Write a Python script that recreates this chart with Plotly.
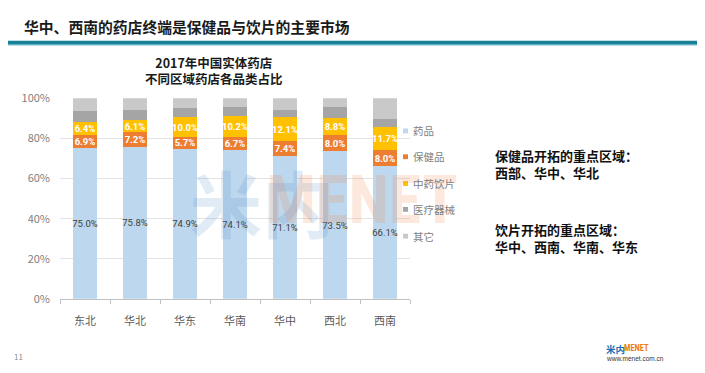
import plotly.graph_objects as go

# ---------------- data ----------------
categories = ["东北", "华北", "华东", "华南", "华中", "西北", "西南"]
drugs = [75.0, 75.8, 74.9, 74.1, 71.1, 73.5, 66.1]        # 药品
health = [6.9, 7.2, 5.7, 6.7, 7.4, 8.0, 8.0]              # 保健品
herbal = [6.4, 6.1, 10.0, 10.2, 12.1, 8.8, 11.7]          # 中药饮片
devices = [5.5, 5.3, 4.5, 4.8, 3.4, 5.2, 4.0]             # 医疗器械 (estimated)
others = [6.2, 5.6, 4.9, 4.2, 6.0, 4.5, 10.2]             # 其它 (estimated)
series_names = ["药品", "保健品", "中药饮片", "医疗器械", "其它"]
y_ticks = [0, 20, 40, 60, 80, 100]
y_tick_labels = ["0%", "20%", "40%", "60%", "80%", "100%"]

page_title = "华中、西南的药店终端是保健品与饮片的主要市场"
chart_title = "2017年中国实体药店<br>不同区域药店各品类占比"
note1 = "保健品开拓的重点区域：<br>西部、华中、华北"
note2 = "饮片开拓的重点区域：<br>华中、西南、华南、华东"

# ---------------- style ----------------
W, H = 705, 373
OFF = 8  # page body margin offset
FONT = "Noto Sans CJK SC"
NUMFONT = "Roboto, 'Noto Sans', 'Liberation Sans', sans-serif"
colors = ["#BDD7EE", "#ED7D31", "#FFC000", "#A5A5A5", "#C9C9C9"]


def px(x):
    return (x - OFF) / W


def py(y):
    return 1 - (y - OFF) / H


series = [drugs, health, herbal, devices, others]
fig = go.Figure()
for i, (name, vals) in enumerate(zip(series_names, series)):
    if i == 0:
        text = [f"{v:.1f}%" for v in vals]
        tf = dict(family=NUMFONT, size=9.5, color="#404040")
    elif i in (1, 2):
        text = [f"{v:.1f}%" for v in vals]
        tf = dict(family=NUMFONT, size=9.5, color="white", weight="bold")
    else:
        text = None
        tf = None
    fig.add_trace(go.Bar(
        x=categories, y=vals, name=name,
        marker=dict(color=colors[i], line=dict(width=0)),
        text=text, textposition="inside" if text else "none",
        insidetextanchor="middle", textangle=0,
        textfont=tf, width=0.48, showlegend=False,
        constraintext="none",
    ))

fig.update_layout(
    width=W, height=H,
    margin=dict(l=0, r=0, t=0, b=0),
    paper_bgcolor="white", plot_bgcolor="white",
    barmode="stack",
    uniformtext=dict(minsize=9.5, mode="show"),
    font=dict(family=FONT, color="#595959"),
    xaxis=dict(
        domain=[px(60), px(410)],
        tickfont=dict(family=FONT, size=11, color="#595959"),
        showline=True, linecolor="#BFBFBF", linewidth=1,
        ticks="outside", tickson="boundaries", ticklen=4, tickcolor="#BFBFBF",
        ticklabelstandoff=12,
        showgrid=False,
    ),
    yaxis=dict(
        domain=[py(302.5), py(93)],
        range=[0, 100],
        tickvals=y_ticks, ticktext=y_tick_labels,
        tickfont=dict(family=FONT, size=11, color="#7F7F7F"),
        showgrid=True, gridcolor="#E3E3E3", gridwidth=1,
        zeroline=False, showline=False, ticks="",
        ticklabelstandoff=9,
    ),
)

annotations = []
shapes = []

# watermark
annotations.append(dict(x=px(188), y=py(200), xref="paper", yref="paper",
                        text="米内", showarrow=False,
                        font=dict(family=FONT, size=72, color="rgba(70,130,190,0.16)", weight="bold")))
annotations.append(dict(x=px(362), y=py(200), xref="paper", yref="paper",
                        text="MENET", showarrow=False,
                        font=dict(family="'Roboto Condensed', Roboto, 'Liberation Sans', sans-serif",
                                  size=66, color="rgba(240,140,80,0.2)", weight="bold")))

# page title
annotations.append(dict(x=px(22), y=py(18), xref="paper", yref="paper", xanchor="left", yanchor="middle",
                        text=page_title, showarrow=False,
                        font=dict(family=FONT, size=14.8, color="#1A1A1A", weight="bold")))
shapes.append(dict(type="line", xref="paper", yref="paper", x0=0, x1=1.05, y0=py(35), y1=py(35),
                   line=dict(color="#17819A", width=4)))
shapes.append(dict(type="line", xref="paper", yref="paper", x0=0, x1=1.05, y0=py(37.5), y1=py(37.5),
                   line=dict(color="#9FD3DF", width=1)))

# chart title
annotations.append(dict(x=px(214), y=py(64), xref="paper", yref="paper", xanchor="center", yanchor="middle",
                        text=chart_title, showarrow=False,
                        font=dict(family=FONT, size=12.5, color="#1A1A1A", weight="bold")))

# manual legend
legend_y = [127, 154, 182, 209, 237]
for name, c, ly in zip(series_names, colors, legend_y):
    shapes.append(dict(type="rect", xref="paper", yref="paper",
                       x0=px(403), x1=px(408), y0=py(ly + 2.5), y1=py(ly - 2.5),
                       fillcolor=c, line=dict(width=0)))
    annotations.append(dict(x=px(411), y=py(ly), xref="paper", yref="paper", xanchor="left", yanchor="middle",
                            text=name, showarrow=False,
                            font=dict(family=FONT, size=10.5, color="#7F7F7F")))

# side notes
annotations.append(dict(x=px(493), y=py(162), xref="paper", yref="paper", xanchor="left", yanchor="middle",
                        text=note1, showarrow=False, align="left",
                        font=dict(family=FONT, size=13, color="#111111", weight="bold")))
annotations.append(dict(x=px(493), y=py(239), xref="paper", yref="paper", xanchor="left", yanchor="middle",
                        text=note2, showarrow=False, align="left",
                        font=dict(family=FONT, size=13, color="#111111", weight="bold")))

# footer
annotations.append(dict(x=px(12), y=py(363), xref="paper", yref="paper", xanchor="left", yanchor="middle",
                        text="11", showarrow=False, font=dict(family=FONT, size=8, color="#8C8C8C")))
annotations.append(dict(x=px(604), y=py(355), xref="paper", yref="paper", xanchor="left", yanchor="middle",
                        text="<b>米内</b>", showarrow=False, font=dict(family=FONT, size=9.5, color="#1B6FB5")))
annotations.append(dict(x=px(622), y=py(354), xref="paper", yref="paper", xanchor="left", yanchor="middle",
                        text="<b>MENET</b>", showarrow=False,
                        font=dict(family="'Roboto Condensed', Roboto, sans-serif", size=8.5, color="#F07D22")))
annotations.append(dict(x=px(604), y=py(365), xref="paper", yref="paper", xanchor="left", yanchor="middle",
                        text="www.menet.com.cn", showarrow=False,
                        font=dict(family="'Liberation Sans', sans-serif", size=6.5, color="#333333")))

fig.update_layout(annotations=annotations, shapes=shapes)
fig.write_html("out.html")
